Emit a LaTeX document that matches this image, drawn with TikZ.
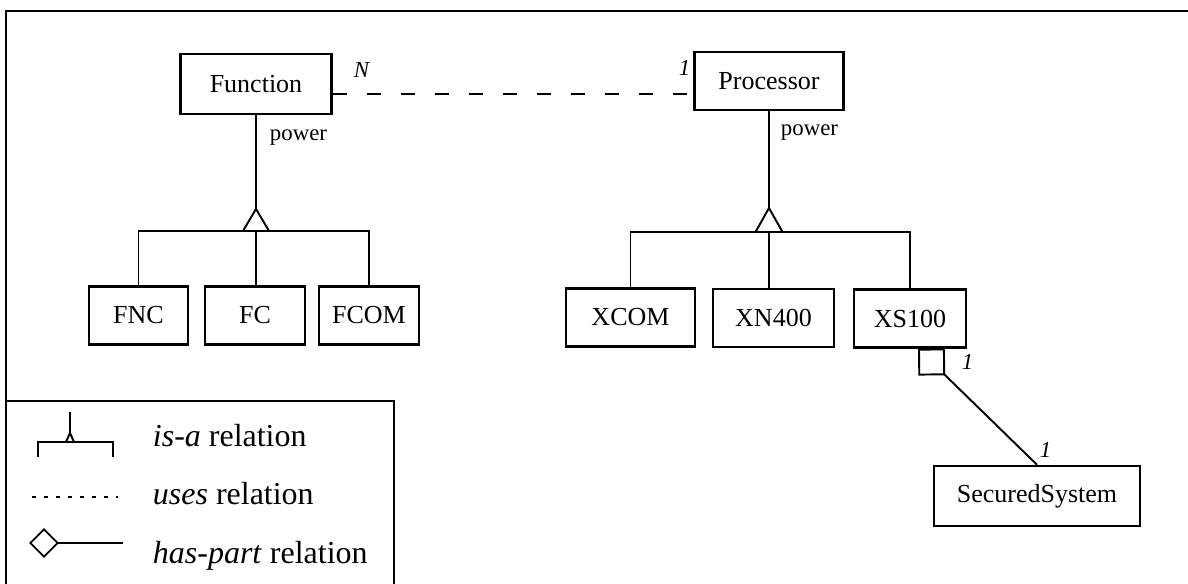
\documentclass[tikz,border=0pt]{standalone}
\usepackage{fontspec}
\setmainfont{Liberation Serif}
\usetikzlibrary{arrows.meta}

\begin{document}
\begin{tikzpicture}[x=0.02cm,y=-0.02cm,line width=1.1pt,
  cls/.style={draw,line width=1.4pt,inner sep=0pt,minimum height=1.16cm,font=\fontsize{14.8}{17}\selectfont},
  role/.style={anchor=base west,inner sep=0pt,font=\fontsize{13}{15}\selectfont},
  card/.style={anchor=base west,inner sep=0pt,font=\fontsize{13}{15}\selectfont\itshape},
  legend/.style={anchor=base west,inner sep=0pt,font=\fontsize{18.2}{21}\selectfont},
  haspart/.style={{Diamond[open,length=#1,width=#1]}-},
  uses/.style={dash pattern=on 0.28cm off 0.4cm}]
\useasboundingbox (0,0) rectangle (1188,584);
\draw (1188,11) -- (6,11) -- (6,584);
\node[cls,minimum width=3.02cm,minimum height=1.2cm] (Function) at (256,84) {Function};
\node[cls,minimum width=2.98cm] (Processor) at (769,81) {Processor};
\draw[uses] (Function.east |- 0,94) -- (Processor.west |- 0,94);
\node[card] (fmany) at (353,78) {N};
\node[card] (pone) at (678,76) {1};
\node[role] (fpower) at (269,141) {power};
\node[role] (ppower) at (780,136) {power};
\node[cls,minimum width=1.98cm] (FNC) at (138.5,315.5) {FNC};
\node[cls,minimum width=2cm] (FC) at (255,315.5) {FC};
\node[cls,minimum width=2cm] (FCOM) at (369,315.5) {FCOM};
\node[cls,minimum width=2.58cm] (XCOM) at (630.5,317.5) {XCOM};
\node[cls,minimum width=2.42cm] (XN400) at (773.5,318) {XN400};
\node[cls,minimum width=2.24cm] (XS100) at (910,318.5) {XS100};
\node[cls,minimum width=4.12cm,minimum height=1.2cm] (SecuredSystem) at (1037,496) {SecuredSystem};
\coordinate (fa) at (256,209);
\coordinate (fb) at (256,231);
\draw (Function.south) -- (fa);
\draw (fa) -- ++(-13,22) -- ++(26,0) -- cycle;
\draw (FNC.north) -- (FNC.north |- fb) -- (FCOM.north |- fb) -- (FCOM.north);
\draw (fb) -- (fb |- FC.north);
\coordinate (pa) at (769,208);
\coordinate (pb) at (769,232);
\draw (Processor.south) -- (pa);
\draw (pa) -- ++(-13.5,24) -- ++(27,0) -- cycle;
\draw (XCOM.north) -- (XCOM.north |- pb) -- (XS100.north |- pb) -- (XS100.north);
\draw (pb) -- (pb |- XN400.north);
\draw[haspart=0.76cm] ([xshift=0.16cm]XS100.south) -- (SecuredSystem.north);
\node[card] (xone) at (961,370) {1};
\node[card] (sone) at (1039,458) {1};
\draw (6,401) -- (394,401) -- (394,584);
\draw (70,412) -- (70,433);
\draw (70,433) -- (66,442) -- (74,442) -- cycle;
\draw (38,457) -- (38,442) -- (113,442) -- (113,457);
\draw[line width=0.8pt,dash pattern=on 0.08cm off 0.16cm] (32,497) -- (118,497);
\draw[haspart=0.6cm] (29,543) -- (123,543);
\node[legend] (isatext) at (152,447) {\textit{is-a} relation};
\node[legend] (usestext) at (152,504) {\textit{uses} relation};
\node[legend] (parttext) at (152,563) {\textit{has-part} relation};
\end{tikzpicture}
\end{document}
